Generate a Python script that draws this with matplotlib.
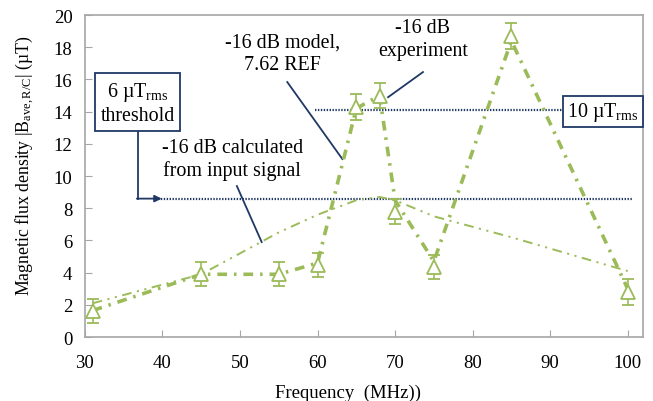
import matplotlib
matplotlib.use("Agg")
import matplotlib.pyplot as plt

plt.rcParams['font.family'] = ['Liberation Serif', 'DejaVu Serif']
plt.rcParams['mathtext.fontset'] = 'custom'
plt.rcParams['mathtext.rm'] = 'Liberation Serif'
plt.rcParams['mathtext.it'] = 'Liberation Serif:italic'
plt.rcParams['lines.scale_dashes'] = False

freq = [31, 45, 55, 60, 65, 68, 70, 75, 85, 100]
experiment = [1.6, 3.9, 3.9, 4.5, 14.3, 15.0, 7.8, 4.35, 18.7, 2.8]
exp_err = [0.75, 0.75, 0.75, 0.75, 0.8, 0.8, 0.8, 0.75, 0.8, 0.8]
model = [1.65, 3.9, 3.9, 4.6, 14.2, 15.0, 8.5, 4.7, 18.4, 3.0]
calculated = [2.1, 3.9, 6.5, 7.6, 8.5, 8.7, 8.5, 7.5, 6.2, 4.1]
threshold_6 = 8.6
threshold_10 = 14.1

green = '#9BBB59'
navy = '#1F3864'
gray = '#A6A6A6'

fig = plt.figure(figsize=(6.53, 4.02), dpi=100)
ax = fig.add_axes([0.130, 0.159, 0.855, 0.801])

# calculated line
l1, = ax.plot(freq, calculated, color=green, lw=1.4, zorder=3)
l1.set_dashes((7, 4, 1.5, 4, 1.5, 4))
# model line
l2, = ax.plot(freq, model, color=green, lw=2.6, zorder=3)
l2.set_dashes((7, 5, 1.8, 5))
# experiment
ax.errorbar(freq, experiment, yerr=exp_err, fmt='^', ms=10, mfc='white',
            mec=green, mew=1.3, ecolor=green, elinewidth=1.2, capsize=4,
            capthick=1.2, zorder=4)

# threshold lines
ax.plot([39.0, 100.7], [threshold_6, threshold_6], color=navy, lw=1.6,
        ls=(0, (1, 1.1)), zorder=2, clip_on=False)
ax.plot([59.7, 92.0], [threshold_10, threshold_10], color=navy, lw=1.6,
        ls=(0, (1, 1.1)), zorder=2, clip_on=False)

ax.set_xlim(30, 102)
ax.set_ylim(0, 20)
ax.set_xticks([30, 40, 50, 60, 70, 80, 90, 100])
ax.set_yticks(range(0, 21, 2))
ax.tick_params(direction='in', length=5, color=gray, labelsize=13.5)
ax.tick_params(axis='x', pad=12)
ax.tick_params(axis='y', pad=9)
for s in ax.spines.values():
    s.set_color(gray)
    s.set_linewidth(1.2)

ax.set_xlabel('Frequency  (MHz))', fontsize=13.5)
ax.xaxis.set_label_coords(0.471, -0.145)
ax.set_ylabel('Magnetic flux density |B$_\\mathregular{ave,R/C}$| (µT)', fontsize=12.8)
ax.yaxis.set_label_coords(-0.088, 0.535)

fs = 14.4
# boxes
ax.text(36.8, 14.55, '6 µT$_\\mathregular{rms}$\nthreshold', ha='center', va='center',
        fontsize=fs, linespacing=1.2,
        bbox=dict(boxstyle='square,pad=0.28', fc='white', ec=navy, lw=1.3), zorder=6)
ax.plot([36.8, 36.8], [12.9, threshold_6], color=navy, lw=1.3, zorder=5)
ax.annotate('', xy=(39.9, threshold_6), xytext=(36.7, threshold_6),
            arrowprops=dict(arrowstyle='-|>', color=navy, lw=1.3, mutation_scale=10,
                            shrinkA=0, shrinkB=0), zorder=5)
ax.text(96.8, 14.0, '10 µT$_\\mathregular{rms}$', ha='center', va='center', fontsize=fs,
        bbox=dict(boxstyle='square,pad=0.2', fc='white', ec=navy, lw=1.3), zorder=6)

# annotations
ax.text(49.0, 11.05, '-16 dB calculated\nfrom input signal', ha='center', va='center',
        fontsize=fs, linespacing=1.25)
ax.plot([49.6, 52.8], [9.38, 5.9], color=navy, lw=1.3)
ax.text(55.5, 17.6, '-16 dB model,\n7.62 REF', ha='center', va='center',
        fontsize=fs, linespacing=1.25)
ax.plot([56.1, 63.2], [15.84, 11.06], color=navy, lw=1.3)
ax.text(73.6, 18.5, '-16 dB\nexperiment', ha='center', va='center',
        fontsize=fs, linespacing=1.25)
ax.plot([73.6, 69.1], [16.46, 14.9], color=navy, lw=1.3)

fig.savefig('out.png', dpi=100)
